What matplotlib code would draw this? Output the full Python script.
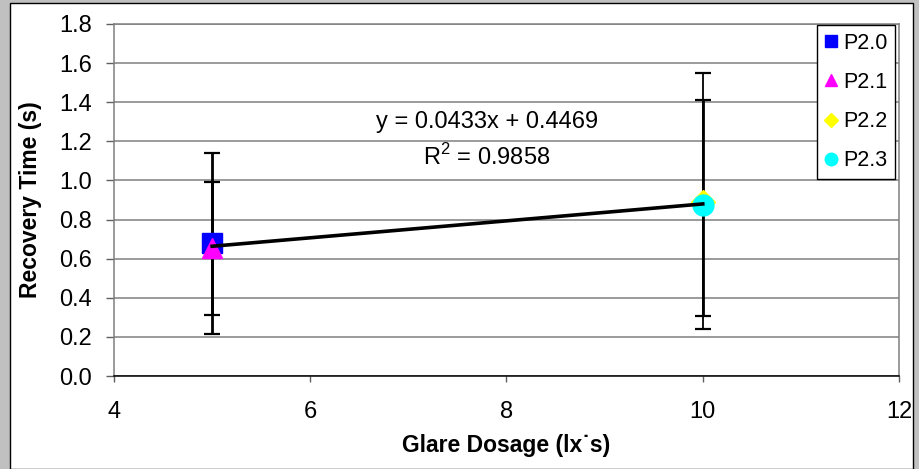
import matplotlib
matplotlib.use("Agg")
from matplotlib import pyplot as plt
from matplotlib.patches import Rectangle

plt.rcParams['font.family'] = ['Liberation Sans', 'DejaVu Sans']
plt.rcParams['mathtext.fontset'] = 'custom'
plt.rcParams['mathtext.rm'] = 'Liberation Sans'

series = ['P2.0', 'P2.1', 'P2.2', 'P2.3']
dosage = [5, 5, 10, 10]
recovery = [0.68, 0.655, 0.89, 0.876]
err_low = [0.465, 0.345, 0.651, 0.568]
err_high = [0.459, 0.337, 0.658, 0.537]
colors = ['#0000ff', '#ff00ff', '#ffff00', '#00ffff']
markers = ['s', '^', 'D', 'o']
sizes = [14, 15, 12, 15]

slope = 0.0433
intercept = 0.4469
r_squared = 0.9858
fit_x = [5, 10]

fig = plt.figure(figsize=(9.2, 4.69), dpi=100, facecolor='#c0c0c0')
# white chart area with thin black edge
fig.patches.append(Rectangle((10 / 920, 0), 903 / 920, 466 / 469, transform=fig.transFigure,
                             facecolor='white', edgecolor='black', linewidth=1, zorder=-5))

ax = fig.add_axes([114 / 920, 1 - 376 / 469, 785 / 920, 352 / 469])
ax.set_facecolor('white')

for i in range(len(series)):
    ax.errorbar(dosage[i], recovery[i], yerr=[[err_low[i]], [err_high[i]]], fmt='none',
                ecolor='black', elinewidth=2 if i != 2 else 1.3, capsize=6, capthick=1.6,
                zorder=2)
for i in range(len(series)):
    ax.plot(dosage[i], recovery[i], linestyle='none', marker=markers[i], markersize=sizes[i],
            color=colors[i], markeredgecolor=colors[i], label=series[i], zorder=3)

fit_y = [slope * v + intercept for v in fit_x]
ax.plot(fit_x, fit_y, color='black', linewidth=2.6, zorder=4)

ax.text(7.8, 1.30, f'y = {slope}x + {intercept}', ha='center', va='center', fontsize=17)
ax.text(7.8, 1.12, f'R$^2$ = {r_squared}', ha='center', va='center', fontsize=17)

ax.set_xlim(4, 12)
ax.set_ylim(0, 1.8)
ax.set_xticks([4, 6, 8, 10, 12])
ax.set_yticks([0.0, 0.2, 0.4, 0.6, 0.8, 1.0, 1.2, 1.4, 1.6, 1.8])
ax.set_yticklabels([f'{v:.1f}' for v in ax.get_yticks()])
ax.yaxis.grid(True, color='#808080', linewidth=1.1)
ax.set_axisbelow(True)

for side in ['left', 'top', 'right']:
    ax.spines[side].set_color('#808080')
    ax.spines[side].set_linewidth(1.1)
ax.spines['bottom'].set_color('black')
ax.spines['bottom'].set_linewidth(1.1)

ax.tick_params(axis='y', direction='out', length=6, width=1, color='#606060', labelsize=17, pad=10)
ax.tick_params(axis='x', direction='out', length=4, width=1, color='#606060', labelsize=17, pad=14)

ax.set_xlabel('Glare Dosage (lx˙s)', fontsize=16.5, fontweight='bold', labelpad=8)
ax.set_ylabel('Recovery Time (s)', fontsize=16.5, fontweight='bold', labelpad=12)

leg = ax.legend(loc='upper right', bbox_to_anchor=(0.995, 0.997), borderaxespad=0,
                fontsize=15.5, markerscale=0.6, handlelength=0.55, handletextpad=0.3,
                labelspacing=0.85, borderpad=0.35, fancybox=False, framealpha=1)
leg.get_frame().set_edgecolor('black')
leg.get_frame().set_linewidth(1)

fig.savefig('out.png', dpi=100, facecolor=fig.get_facecolor())
